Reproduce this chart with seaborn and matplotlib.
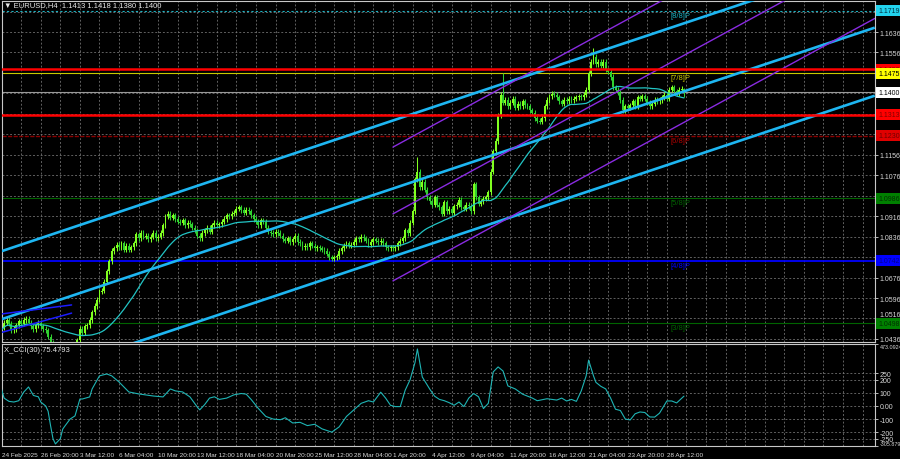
import numpy as np
import pandas as pd
import matplotlib
matplotlib.use("Agg")
import matplotlib.pyplot as plt
import matplotlib.transforms as mtransforms
import seaborn as sns

#%% data (one row = one trading day, 6 bars)
closes = [
    1.0465, 1.0480, 1.0500, 1.0510, 1.0495, 1.0470,   # 24 Feb
    1.0475, 1.0490, 1.0505, 1.0495, 1.0510, 1.0515,   # 25 Feb
    1.0500, 1.0485, 1.0475, 1.0490, 1.0500, 1.0485,   # 26 Feb
    1.0475, 1.0470, 1.0445, 1.0420, 1.0400, 1.0395,   # 27 Feb
    1.0400, 1.0390, 1.0380, 1.0375, 1.0390, 1.0380,   # 28 Feb
    1.0385, 1.0410, 1.0430, 1.0475, 1.0460, 1.0485,   # 3 Mar
    1.0490, 1.0510, 1.0540, 1.0565, 1.0590, 1.0620,   # 4 Mar
    1.0625, 1.0660, 1.0700, 1.0740, 1.0780, 1.0790,   # 5 Mar
    1.0805, 1.0795, 1.0810, 1.0785, 1.0800, 1.0785,   # 6 Mar
    1.0795, 1.0810, 1.0845, 1.0830, 1.0850, 1.0835,   # 7 Mar
    1.0840, 1.0825, 1.0835, 1.0850, 1.0830, 1.0835,   # 10 Mar
    1.0850, 1.0880, 1.0915, 1.0925, 1.0910, 1.0920,   # 11 Mar
    1.0905, 1.0895, 1.0890, 1.0900, 1.0880, 1.0890,   # 12 Mar
    1.0885, 1.0870, 1.0860, 1.0840, 1.0830, 1.0850,   # 13 Mar
    1.0860, 1.0870, 1.0855, 1.0880, 1.0890, 1.0880,   # 14 Mar
    1.0885, 1.0895, 1.0905, 1.0920, 1.0915, 1.0925,   # 17 Mar
    1.0930, 1.0945, 1.0950, 1.0940, 1.0930, 1.0940,   # 18 Mar
    1.0935, 1.0920, 1.0905, 1.0895, 1.0880, 1.0900,   # 19 Mar
    1.0895, 1.0870, 1.0855, 1.0850, 1.0845, 1.0855,   # 20 Mar
    1.0850, 1.0840, 1.0825, 1.0820, 1.0830, 1.0815,   # 21 Mar
    1.0825, 1.0840, 1.0815, 1.0810, 1.0795, 1.0800,   # 24 Mar
    1.0795, 1.0810, 1.0800, 1.0790, 1.0795, 1.0790,   # 25 Mar
    1.0785, 1.0780, 1.0770, 1.0755, 1.0750, 1.0755,   # 26 Mar
    1.0760, 1.0780, 1.0790, 1.0800, 1.0810, 1.0800,   # 27 Mar
    1.0805, 1.0815, 1.0830, 1.0825, 1.0835, 1.0830,   # 28 Mar
    1.0820, 1.0805, 1.0815, 1.0825, 1.0820, 1.0815,   # 31 Mar
    1.0820, 1.0810, 1.0795, 1.0790, 1.0795, 1.0790,   # 1 Apr
    1.0795, 1.0810, 1.0820, 1.0830, 1.0860, 1.0850,   # 2 Apr
    1.0890, 1.0935, 1.1060, 1.1090, 1.1030, 1.1050,   # 3 Apr
    1.1020, 1.0990, 1.0975, 1.0960, 1.0990, 1.0960,   # 4 Apr
    1.0950, 1.0925, 1.0970, 1.0935, 1.0945, 1.0930,   # 7 Apr
    1.0955, 1.0960, 1.0980, 1.0950, 1.0945, 1.0960,   # 8 Apr
    1.0955, 1.0935, 1.1040, 1.0990, 1.0965, 1.0975,   # 9 Apr
    1.0985, 1.0990, 1.1010, 1.1090, 1.1170, 1.1210,   # 10 Apr
    1.1310, 1.1390, 1.1360, 1.1370, 1.1345, 1.1360,   # 11 Apr
    1.1375, 1.1340, 1.1355, 1.1345, 1.1365, 1.1350,   # 14 Apr
    1.1345, 1.1330, 1.1320, 1.1300, 1.1290, 1.1285,   # 15 Apr
    1.1300, 1.1345, 1.1370, 1.1385, 1.1395, 1.1390,   # 16 Apr
    1.1380, 1.1365, 1.1355, 1.1370, 1.1365, 1.1375,   # 17 Apr
    1.1370, 1.1375, 1.1380, 1.1385, 1.1380, 1.1390,   # 18 Apr
    1.1410, 1.1475, 1.1520, 1.1540, 1.1510, 1.1520,   # 21 Apr
    1.1505, 1.1520, 1.1490, 1.1480, 1.1460, 1.1420,   # 22 Apr
    1.1410, 1.1400, 1.1370, 1.1330, 1.1345, 1.1340,   # 23 Apr
    1.1350, 1.1365, 1.1345, 1.1380, 1.1375, 1.1385,   # 24 Apr
    1.1375, 1.1360, 1.1345, 1.1355, 1.1370, 1.1365,   # 25 Apr
    1.1370, 1.1380, 1.1390, 1.1375, 1.1410, 1.1420,   # 28 Apr
    1.1405, 1.1395, 1.1410, 1.1413, 1.1400,           # 29 Apr
]
first_open = 1.0460
spike_high = {171: 1.1147, 206: 1.1475, 243: 1.1572, 280: 1.1418}
spike_low = {221: 1.1276, 280: 1.1380}

# CCI(30) polyline vertices (bar index, value)
cci_bar = [0, 2, 4, 6, 8, 10, 12, 14, 16, 17, 19, 20, 21, 22, 23, 24, 25, 26, 27, 29,
           31, 33, 34, 37, 38, 41, 44, 46, 49, 53, 57, 63, 67, 70, 72, 75, 78, 81, 82, 84,
           86, 88, 90, 93, 96, 99, 101, 103, 106, 109, 112, 115, 117, 120, 123, 126, 129, 132, 136, 139,
           142, 145, 148, 151, 153, 156, 158, 160, 162, 164, 166, 168, 170, 171, 173, 176, 178, 180, 182, 184,
           186, 188, 190, 192, 194, 196, 198, 200, 202, 204, 206, 208, 211, 214, 216, 218, 220, 224, 228, 230,
           232, 234, 236, 238, 240, 241, 243, 244, 246, 248, 250, 252, 254, 256, 258, 260, 262, 264, 266, 268,
           270, 273, 275, 277, 280]
cci_val = [190, 60, 35, 30, 40, 105, 145, 80, 70, 30, 0, -40, -150, -250, -290, -270, -250, -176, -150, -100,
           -76, 53, 53, 69, 130, 230, 244, 230, 183, 107, 92, 76, 69, 130, 115, 107, 69, -8, -30, 10,
           60, 70, 50, 60, 85, 95, 90, 50, -20, -80, -100, -105, -90, -130, -125, -150, -140, -175, -200, -160,
           -80, -30, 20, 40, 30, 105, 60, 5, -5, -5, 120, 200, 330, 435, 221, 130, 75, 50, 40, 25,
           5, 30, -5, 60, 95, 70, -20, 20, 260, 298, 267, 153, 130, 90, 75, 60, 40, 55, 45, 60,
           38, 50, 35, 115, 230, 350, 230, 180, 150, 130, 60, -25, -35, -100, -107, -60, -46, -50, -84, -85,
           -55, 38, 38, 23, 75]

# price axis ticks, Murray levels and other horizontal lines
price_ticks = [1.0436, 1.0516, 1.0596, 1.0676, 1.0756, 1.0836, 1.0916, 1.0996, 1.1076,
               1.1156, 1.1236, 1.1316, 1.1396, 1.1476, 1.1556, 1.1636, 1.1716]
murray_levels = [1.1719, 1.1475, 1.1230, 1.0986, 1.0742, 1.0498]
murray_names = ["[8/8]P", "[7/8]P", "[6/8]P", "[5/8]P", "[4/8]P", "[3/8]P"]
red_levels = [1.1490, 1.1313]
last_price = 1.1400

# channels: (bar, price) at both ends
blue_channel = [[(0, 1.0776), (358, 1.1919)],
                [(0, 1.0510), (358, 1.1653)],
                [(0, 1.0244), (358, 1.1387)]]
purple_channel = [[(161, 1.1186), (358, 1.2212)],
                  [(161, 1.0925), (358, 1.1951)],
                  [(161, 1.0663), (358, 1.1689)]]
short_lines = [[(1.15, 1.0534), (29.6, 1.0569)],
               [(1.15, 1.0462), (29.6, 1.0537)]]

cci_ticks = [250, 200, 100, 0, -100, -200, -250]
cci_tick_labels = ["250", "200", "100", "0.00", "-100", "-200", "-250"]

time_ticks = [1.15, 17, 33, 49, 65, 81, 97, 113, 129, 145, 161, 177, 193, 209, 225, 241, 257, 273]
time_labels = ["24 Feb 2025", "26 Feb 20:00", "3 Mar 12:00", "6 Mar 04:00", "10 Mar 20:00",
               "13 Mar 12:00", "18 Mar 04:00", "20 Mar 20:00", "25 Mar 12:00", "28 Mar 04:00",
               "1 Apr 20:00", "4 Apr 12:00", "9 Apr 04:00", "11 Apr 20:00", "16 Apr 12:00",
               "21 Apr 04:00", "23 Apr 20:00", "28 Apr 12:00"]

#%% build candles
df = pd.DataFrame({"close": closes})
df["bar"] = np.arange(len(df))
df["open"] = df["close"].shift(1).fillna(first_open)
wick = 0.0010
df["high"] = df[["open", "close"]].max(axis=1) + wick
df["low"] = df[["open", "close"]].min(axis=1) - wick
for k, v in spike_high.items():
    df.loc[k, "high"] = v
for k, v in spike_low.items():
    df.loc[k, "low"] = v
df["ma"] = df["close"].rolling(30, min_periods=1).mean()

#%% figure
sns.set_style("dark")
plt.rcParams["font.family"] = ["Liberation Sans Narrow", "Liberation Sans", "DejaVu Sans"]
W, H = 900, 460
fig = plt.figure(figsize=(9, 4.6), dpi=100, facecolor="black")
ax = fig.add_axes([2 / W, 1 - 343 / H, 873 / W, 341 / H])
ax2 = fig.add_axes([2 / W, 13 / H, 873 / W, 102 / H], sharex=ax)

x_lo, x_hi = 1.15, 358.1
fs = 5.0
txt_col = "#d8d8d8"
grid_kw = dict(color="#7a7a7a", lw=0.55, ls=(0, (2.5, 2.5)), zorder=0.5)

for a in (ax, ax2):
    a.set_facecolor("black")
    for s in a.spines.values():
        s.set_color("#c8c8c8")
        s.set_linewidth(0.8)
    for gx in np.arange(1, 358, 8):
        a.axvline(gx, **grid_kw)

for p in price_ticks:
    ax.axhline(p, **grid_kw)
for c in cci_ticks:
    ax2.axhline(c, **grid_kw)

# horizontal levels
mur_style = [("#1ab0c0", 0.8, (0, (2, 2))), ("#c8c800", 0.8, "-"), ("#8b0000", 1.0, (0, (3, 1))),
             ("#006400", 0.8, "-"), ("#0000ff", 1.3, "-"), ("#006400", 0.8, "-")]
mur_text_col = ["#1ab0c0", "#c8c800", "#b00000", "#006400", "#0000ff", "#006400"]
for lvl, (col, lw, ls) in zip(murray_levels, mur_style):
    ax.axhline(lvl, color=col, lw=lw, ls=ls, zorder=1)
for lvl, name, col in zip(murray_levels, murray_names, mur_text_col):
    ax.text(274.5, lvl - 0.0004, name, color=col, fontsize=fs + 0.5, va="top", ha="left", zorder=6)
ax.axhline(last_price, color="#9a9a9a", lw=0.8, zorder=1)
for lvl in red_levels:
    ax.axhline(lvl, color="#ff0000", lw=1.8, zorder=5)

# candles
bull = df["close"] >= df["open"]
cols = np.where(bull, "#80ff20", "#30d030")
ax.vlines(df["bar"], df["low"], df["high"], colors=cols, lw=0.75, zorder=2)
ax.bar(df["bar"], (df["close"] - df["open"]).abs().clip(lower=0.00012),
       bottom=df[["open", "close"]].min(axis=1), width=0.78, color=cols, lw=0, zorder=2)

sns.lineplot(x=df["bar"], y=df["ma"], ax=ax, color="#22c4c4", lw=0.9, zorder=3)

for (x0, y0), (x1, y1) in blue_channel:
    ax.plot([x0, x1], [y0, y1], color="#1eb6f2", lw=1.9, zorder=4, solid_capstyle="butt")
for (x0, y0), (x1, y1) in purple_channel:
    ax.plot([x0, x1], [y0, y1], color="#8a2be2", lw=1.0, zorder=4)
for (x0, y0), (x1, y1) in short_lines:
    ax.plot([x0, x1], [y0, y1], color="#1c1cff", lw=1.1, zorder=4)

ax.set_xlim(x_lo, x_hi)
ax.set_ylim(1.04241, 1.17572)
ax.set_xlabel("")
ax.set_ylabel("")
ax.yaxis.tick_right()

# price boxes on the right scale
boxes = [(1.1719, "1.1719", "#22d3ee", "#003040"), (1.1490, "1.1490", "#ff0000", "#800000"),
         (1.1475, "1.1475", "#ffff00", "#000000"), (1.1400, "1.1400", "#ffffff", "#000000"),
         (1.1313, "1.1313", "#ff0000", "#800000"), (1.1230, "1.1230", "#e00000", "#700000"),
         (1.0986, "1.0986", "#008000", "#003000"), (1.0742, "1.0742", "#0000ff", "#000090"),
         (1.0498, "1.0498", "#008000", "#003000")]
box_lv = np.array([b[0] for b in boxes])
tick_labs = [f"{p:.4f}" if np.abs(box_lv - p).min() > 0.0016 else "" for p in price_ticks]
ax.set_yticks(price_ticks, tick_labs)
ax.tick_params(axis="y", colors=txt_col, labelsize=fs, length=2, pad=1.2, width=0.6)
ax.tick_params(axis="x", bottom=False, labelbottom=False)
ax.get_yticklabels()[1].set_va("bottom")

trans = mtransforms.blended_transform_factory(ax.transAxes, ax.transData)
for lvl, lab, fc, tc in boxes:
    ax.text(1.0 + 3 / 873, lvl, lab, transform=trans, fontsize=fs, color=tc, va="center", ha="left",
            clip_on=False, zorder=10,
            bbox=dict(boxstyle="square,pad=0.3", fc=fc, ec="none"))

# CCI panel
sns.lineplot(x=cci_bar, y=cci_val, ax=ax2, color="#1fb5b5", lw=0.8, sort=False, zorder=3)
ax2.set_ylim(-305.879, 473.0924)
ax2.set_xlim(x_lo, x_hi)
ax2.set_xlabel("")
ax2.set_ylabel("")
ax2.yaxis.tick_right()
ax2.set_yticks(cci_ticks + [473.0924, -305.879],
               cci_tick_labels + ["473.0924", "-305.879"])
ax2.tick_params(axis="y", colors=txt_col, labelsize=fs, length=2, pad=1.2, width=0.6)
ylabs = ax2.get_yticklabels()
ylabs[-2].set_va("top")
ylabs[-1].set_va("bottom")
for lab in ylabs[-2:]:
    lab.set_fontsize(3.9)
ax2.set_xticks(time_ticks, time_labels)
ax2.tick_params(axis="x", colors=txt_col, labelsize=4.6, length=3, pad=1.5, width=0.6)
for lab in ax2.get_xticklabels():
    lab.set_ha("left")

fig.text(4 / W, 1 - 6 / H, "\u25bc EURUSD,H4  1.1413 1.1418 1.1380 1.1400",
         color="#e8e8e8", fontsize=fs + 0.5, va="center", ha="left")
fig.text(4 / W, 1 - 351 / H, "X_CCI(30) 75.4793", color="#e8e8e8", fontsize=fs + 0.5,
         va="center", ha="left")

fig.savefig("out.png", dpi=100, facecolor="black")
